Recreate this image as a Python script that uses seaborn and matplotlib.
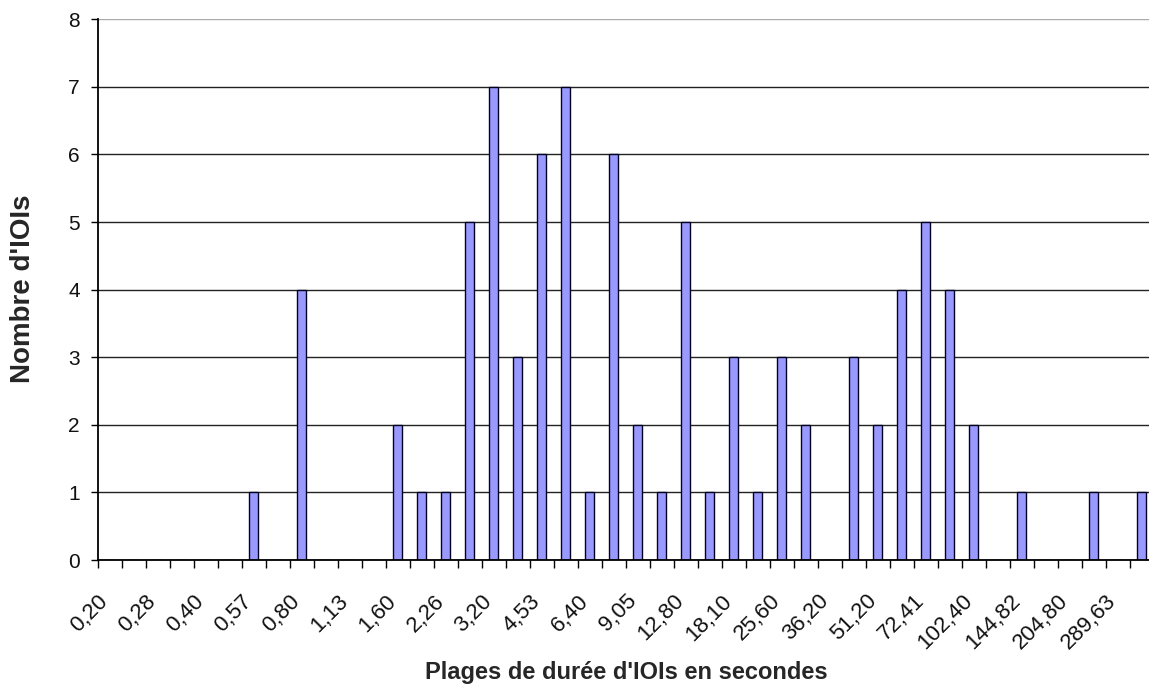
import numpy as np
import pandas as pd
import matplotlib
matplotlib.use('Agg')
import matplotlib.pyplot as plt
import seaborn as sns

# Plages de durée (44 classes, étiquette affichée une sur deux)
categories = [
    '0,20', '0,24', '0,28', '0,34', '0,40', '0,48', '0,57', '0,67',
    '0,80', '0,95', '1,13', '1,35', '1,60', '1,90', '2,26', '2,69',
    '3,20', '3,81', '4,53', '5,38', '6,40', '7,61', '9,05', '10,76',
    '12,80', '15,22', '18,10', '21,53', '25,60', '30,44', '36,20', '43,05',
    '51,20', '60,89', '72,41', '86,11', '102,40', '121,77', '144,82', '172,22',
    '204,80', '243,55', '289,63', '344,41',
]
counts = [
    0, 0, 0, 0, 0, 0, 1, 0,
    4, 0, 0, 0, 2, 1, 1, 5,
    7, 3, 6, 7, 1, 6, 2, 1,
    5, 1, 3, 1, 3, 2, 0, 3,
    2, 4, 5, 4, 2, 0, 1, 0,
    0, 1, 0, 1,
]
y_ticks = [0, 1, 2, 3, 4, 5, 6, 7, 8]

df = pd.DataFrame({'plage': categories, 'n': counts})

sns.set_style('white')
plt.rcParams['font.family'] = ['Liberation Sans', 'DejaVu Sans']

fig = plt.figure(figsize=(11.49, 6.93), dpi=100)
ax = fig.add_axes([97.7 / 1149, (693 - 560) / 693, 1056 / 1149, (560 - 19.3) / 693])

sns.barplot(data=df, x='plage', y='n', order=categories, color='#9999FF',
            edgecolor='#000020', linewidth=1.0, width=0.38, saturation=1,
            ax=ax, zorder=3)

ax.set_xlim(-0.5, len(categories) - 0.5)
ax.set_ylim(0, 8)
ax.set_yticks(y_ticks)
ax.set_yticklabels([str(v) for v in y_ticks], fontsize=15, color='#111111')

# graduations aux limites de classes, étiquettes une sur deux
pos = np.arange(len(categories) + 1) - 0.5
labs = [categories[k] if (k < len(categories) and k % 2 == 0) else '' for k in range(len(pos))]
ax.set_xticks(pos)
ax.set_xticklabels(labs, rotation=45, ha='right', va='top', rotation_mode='anchor',
                   fontsize=16, color='#111111')
ax.tick_params(axis='x', length=6, width=1, color='black', direction='out', pad=16, bottom=True)
ax.tick_params(axis='y', length=5, width=1, color='black', direction='out', pad=8, left=True)

ax.yaxis.grid(True, color='#222222', linewidth=1.0)
ax.xaxis.grid(False)
ax.set_axisbelow(True)
ax.get_ygridlines()[-1].set_color('#aaaaaa')

sns.despine(ax=ax, top=True, right=True)
for s in ['left', 'bottom']:
    ax.spines[s].set_color('black')
    ax.spines[s].set_linewidth(1.3)
ax.spines['bottom'].set_zorder(4)

ax.set_xlabel('')
ax.set_ylabel('')
fig.text(626 / 1149, 1 - 679 / 693, "Plages de durée d'IOIs en secondes",
         ha='center', va='baseline', fontsize=17, fontweight='bold')
fig.text(23 / 1149, 1 - 289 / 693, "Nombre d'IOIs", rotation=90,
         ha='center', va='center', fontsize=20, fontweight='bold')

fig.savefig('out.png', dpi=100)
